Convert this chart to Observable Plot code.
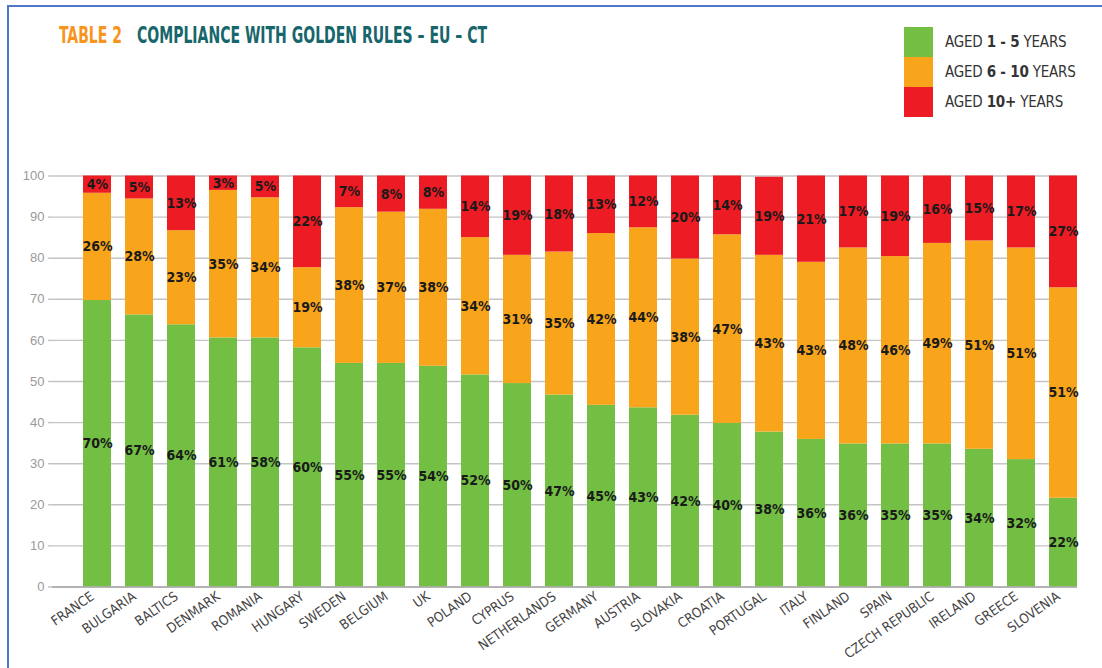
<!DOCTYPE html>
<html>
<head>
<meta charset="utf-8">
<script src="https://cdn.jsdelivr.net/npm/d3@7"></script>
<script src="https://cdn.jsdelivr.net/npm/@observablehq/plot@0.6"></script>
<style>
  html, body { margin: 0; padding: 0; background: #fff; }
  #page { position: relative; width: 1102px; height: 668px; overflow: hidden; background: #fff; }
  #frame { position: absolute; left: 7px; top: 5px; width: 1100px; height: 670px;
           border-top: 2px solid #4f77c9; border-left: 2px solid #4f77c9; }
  .tt { position: absolute; top: 23.6px; white-space: nowrap; line-height: 23px;
        font-family: "Liberation Sans Narrow", "DejaVu Sans Condensed", sans-serif;
        font-weight: bold; font-size: 23px; transform-origin: 0 50%; }
  #t1 { left: 58.5px; color: #f7941d; }
  #t2 { left: 137px; color: #17666b; }
  #legend { position: absolute; left: 904px; top: 27px; }
  .lrow { position: relative; height: 30px; }
  .sw { position: absolute; left: 0; top: 0; width: 29px; height: 30px; }
  .lt { position: absolute; left: 41px; top: 6px; white-space: nowrap;
        font-family: "Liberation Sans Narrow", "DejaVu Sans Condensed", "Liberation Sans", sans-serif;
        font-size: 15px; color: #333; letter-spacing: -0.2px; }
  .lt b { font-weight: bold; }
  #chart { position: absolute; left: 0; top: 160px; }
</style>
</head>
<body>
<div id="page">
  <div id="frame"></div>
  <div class="tt" id="t1">TABLE 2</div>
  <div class="tt" id="t2">COMPLIANCE WITH GOLDEN RULES – EU – CT</div>
  <div id="legend"></div>
  <div id="chart"></div>
</div>
<script>
// ---- data ----
const countries = ["FRANCE","BULGARIA","BALTICS","DENMARK","ROMANIA","HUNGARY","SWEDEN","BELGIUM","UK","POLAND","CYPRUS","NETHERLANDS","GERMANY","AUSTRIA","SLOVAKIA","CROATIA","PORTUGAL","ITALY","FINLAND","SPAIN","CZECH REPUBLIC","IRELAND","GREECE","SLOVENIA"];
const ages = ["AGED 1 - 5 YEARS", "AGED 6 - 10 YEARS", "AGED 10+ YEARS"];
const ageColors = ["#72bf44", "#f8a51c", "#ed1c24"];

// segment heights as drawn
const aged1to5 =  [69.7, 66.2, 63.8, 60.6, 60.6, 58.2, 54.4, 54.4, 53.7, 51.6, 49.5, 46.7, 44.2, 43.6, 41.8, 39.8, 37.7, 35.9, 34.8, 34.8, 34.8, 33.5, 31.0, 21.6];
const aged6to10 = [26.1, 28.2, 22.9, 35.9, 34.1, 19.5, 37.9, 36.8, 38.2, 33.4, 31.2, 34.8, 41.8, 43.8, 38.0, 45.9, 43.0, 43.1, 47.7, 45.6, 48.8, 50.7, 51.5, 51.2];
const aged10plus = [4.2, 5.6, 13.3, 3.5, 5.3, 22.3, 7.7, 8.8, 8.1, 15.0, 19.3, 18.5, 14.0, 12.6, 20.2, 14.3, 19.0, 21.0, 17.5, 19.6, 16.4, 15.8, 17.5, 27.2];

// printed labels (%)
const label1to5 =  [70, 67, 64, 61, 58, 60, 55, 55, 54, 52, 50, 47, 45, 43, 42, 40, 38, 36, 36, 35, 35, 34, 32, 22];
const label6to10 = [26, 28, 23, 35, 34, 19, 38, 37, 38, 34, 31, 35, 42, 44, 38, 47, 43, 43, 48, 46, 49, 51, 51, 51];
const label10plus = [4, 5, 13, 3, 5, 22, 7, 8, 8, 14, 19, 18, 13, 12, 20, 14, 19, 21, 17, 19, 16, 15, 17, 27];

const yTicks = [0, 10, 20, 30, 40, 50, 60, 70, 80, 90, 100];

// ---- title: compress the bold condensed headline to its printed width ----
[["t1", 63], ["t2", 350]].forEach(([id, w]) => {
  const el = document.getElementById(id);
  const natural = el.getBoundingClientRect().width;
  el.style.transform = `scaleX(${w / natural})`;
});

// ---- build table ----
const series = [aged1to5, aged6to10, aged10plus];
const labels = [label1to5, label6to10, label10plus];
const rows = [];
countries.forEach((c, i) => {
  ages.forEach((a, k) => {
    rows.push({country: c, age: a, value: series[k][i], label: labels[k][i] + "%"});
  });
});

// ---- legend ----
const legend = document.getElementById("legend");
const legendHTML = [
  'AGED <b>1 - 5</b> YEARS',
  'AGED <b>6 - 10</b> YEARS',
  'AGED <b>10+</b> YEARS'
];
ages.forEach((a, k) => {
  const row = document.createElement("div");
  row.className = "lrow";
  row.innerHTML = `<div class="sw" style="background:${ageColors[k]}"></div><div class="lt">${legendHTML[k]}</div>`;
  legend.appendChild(row);
});

const narrow = '"Liberation Sans Narrow", "DejaVu Sans Condensed", "Liberation Sans", sans-serif';

const chart = Plot.plot({
  width: 1102,
  height: 507,
  marginTop: 15.5,
  marginBottom: 80.5,
  marginLeft: 52,
  marginRight: 25,
  style: {fontFamily: '"Liberation Sans", Arial, sans-serif', background: "transparent"},
  x: {domain: countries, paddingInner: 0.34, paddingOuter: 0.115, align: 1, label: null},
  y: {domain: [0, 100], label: null},
  color: {domain: ages, range: ageColors},
  marks: [
    Plot.gridY(yTicks, {stroke: "#c4c4c4", strokeOpacity: 1, strokeWidth: 1.4}),
    Plot.axisY(yTicks, {tickSize: 4, tickPadding: 4, stroke: "#c4c4c4", strokeWidth: 1.4, fill: "#9a9a9a", fontSize: 13, label: null}),
    Plot.barY(rows, Plot.stackY({x: "country", y: "value", fill: "age", z: "age"})),
    Plot.text(rows, Plot.stackY({x: "country", y: "value", z: "age", text: "label",
      fill: "#1a1a1a", fontSize: 14, fontWeight: "bold", fontFamily: narrow})),
    Plot.ruleY([0], {stroke: "#a8a8a8", strokeWidth: 1.6}),
    Plot.axisX({tickSize: 0, tickPadding: 8, tickRotate: -35, dx: -5, fontSize: 13.5, fill: "#444",
      fontFamily: narrow, label: null})
  ]
});
document.getElementById("chart").appendChild(chart);
</script>
</body>
</html>
